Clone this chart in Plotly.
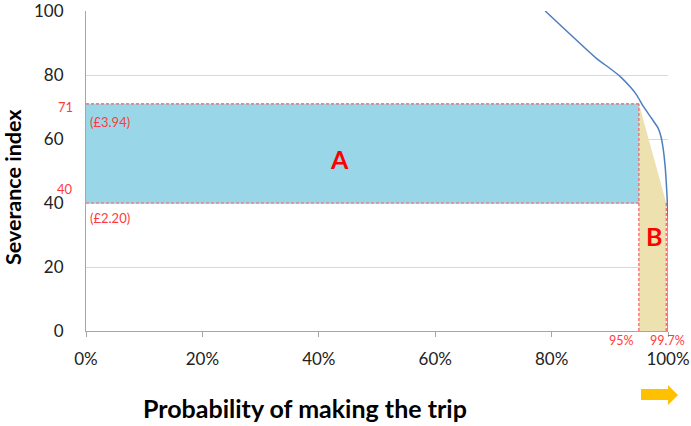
import plotly.graph_objects as go

# Probability of making the trip (%) against severance index
curve_prob = [78.9, 87.7, 90.0, 91.8, 93.5, 94.6, 95.8, 97.2, 98.3,
              98.8, 99.2, 99.5, 99.8, 100.0, 100.0]
curve_sev = [100, 85.2, 82.1, 79.5, 76.3, 73.8, 70.1, 66.4, 63.4,
             60.7, 56.6, 51.6, 43.3, 34.3, 0]

# Severance thresholds and the matching costs
sev_high, sev_low = 71, 40
cost_high, cost_low = "(£3.94)", "(£2.20)"
# Probabilities at the two thresholds
p_high, p_low = 95.0, 99.7

y_ticks = [0, 20, 40, 60, 80, 100]
x_ticks = [0, 20, 40, 60, 80, 100]
x_tick_text = ["0%", "20%", "40%", "60%", "80%", "100%"]

FONT = "Lato, 'Open Sans', sans-serif"
RED = "#FF3B3B"
DASH_RED = "#FF5A5A"

# Plot area in pixels
L, R, T, B = 86, 23, 11, 95
W, H = 691, 426
PW, PH = W - L - R, H - T - B

fig = go.Figure()

# Region A: cost band between the two severance thresholds
fig.add_trace(go.Scatter(
    x=[0, p_high, p_high, 0, 0],
    y=[sev_low, sev_low, sev_high, sev_high, sev_low],
    fill="toself", fillcolor="#99D7E8", mode="none",
    hoverinfo="skip", showlegend=False,
))

# Region B: gain in probability between the thresholds
fig.add_trace(go.Scatter(
    x=[p_high, p_high, p_low, p_low, p_high],
    y=[0, sev_high, sev_low, 0, 0],
    fill="toself", fillcolor="#EEE1B0", mode="none",
    hoverinfo="skip", showlegend=False,
))

dash = dict(color=DASH_RED, width=1.2, dash="3px,2px")
# Threshold guide lines
for xs, ys in [([0, p_high], [sev_high, sev_high]),
               ([0, p_high], [sev_low, sev_low]),
               ([p_high, p_high], [0, sev_high]),
               ([p_low, p_low], [0, sev_low])]:
    fig.add_trace(go.Scatter(x=xs, y=ys, mode="lines", line=dash,
                             hoverinfo="skip", showlegend=False))

# Demand curve
fig.add_trace(go.Scatter(
    x=curve_prob, y=curve_sev, mode="lines",
    line=dict(color="#4F7FC0", width=1.5, shape="spline", smoothing=0.5),
    hoverinfo="skip", showlegend=False, cliponaxis=False,
))

small_red = dict(family=FONT, size=13, color=RED)
tiny_red = dict(family=FONT, size=12.5, color=RED)
annotations = [
    dict(x=0, y=sev_high, text=str(sev_high), xanchor="right", yanchor="middle",
         xshift=-11, yshift=-3, showarrow=False, font=small_red),
    dict(x=0, y=sev_low, text=str(sev_low), xanchor="right", yanchor="bottom",
         xshift=-11, yshift=4, showarrow=False, font=small_red),
    dict(x=0, y=sev_high, text=cost_high, xanchor="left", yanchor="top",
         xshift=2, yshift=-8, showarrow=False, font=small_red),
    dict(x=0, y=sev_low, text=cost_low, xanchor="left", yanchor="top",
         xshift=2, yshift=-5, showarrow=False, font=small_red),
    dict(x=43.6, y=53.7, text="<b>A</b>", showarrow=False,
         font=dict(family=FONT, size=25, color="#FF0000")),
    dict(x=97.6, y=29.7, text="<b>B</b>", showarrow=False,
         font=dict(family=FONT, size=25, color="#FF0000")),
    dict(x=p_high, y=0, text=f"{p_high:g}%", xanchor="right", yanchor="top",
         xshift=-3, yshift=0, showarrow=False, font=tiny_red),
    dict(x=p_low, y=0, text=f"{p_low:g}%", xanchor="center", yanchor="top",
         xshift=1, yshift=0, showarrow=False, font=tiny_red),
    # Axis titles
    dict(xref="paper", yref="paper", x=(305 - L) / PW, y=-(408 - (H - B)) / PH,
         text="<b>Probability of making the trip</b>",
         xanchor="center", yanchor="middle", showarrow=False,
         font=dict(family=FONT, size=25, color="#000000")),
    dict(xref="paper", yref="paper", x=(13 - L) / PW, y=(H - B - 187) / PH,
         text="<b>Severance index</b>",
         textangle=-90, xanchor="center", yanchor="middle", showarrow=False,
         font=dict(family=FONT, size=21.5, color="#000000")),
]


# Orange arrow pointing right, below the 100% label
def px(xp):
    return (xp - L) / PW


def py(yp):
    return (H - B - yp) / PH


arrow_path = (
    f"M {px(641)},{py(389)} L {px(668)},{py(389)} L {px(668)},{py(385)} "
    f"L {px(678)},{py(395)} L {px(668)},{py(405)} L {px(668)},{py(400)} "
    f"L {px(641)},{py(400)} Z"
)

fig.update_layout(
    width=W, height=H,
    margin=dict(l=L, r=R, t=T, b=B, autoexpand=False),
    plot_bgcolor="white", paper_bgcolor="white",
    font=dict(family=FONT, size=16, color="#222222"),
    annotations=annotations,
    shapes=[dict(type="path", xref="paper", yref="paper", path=arrow_path,
                 fillcolor="#FFC000", line=dict(width=0))],
    xaxis=dict(
        range=[0, 100], tickvals=x_ticks, ticktext=x_tick_text,
        showgrid=False, zeroline=False, showline=True, linecolor="#A6A6A6",
        linewidth=1, ticks="outside", ticklen=5, tickcolor="#A6A6A6",
        ticklabelstandoff=8, tickfont=dict(size=17), automargin=False,
        ticklabeloverflow="allow",
    ),
    yaxis=dict(
        range=[0, 100], tickvals=y_ticks,
        showgrid=True, gridcolor="#D9D9D9", gridwidth=1, zeroline=False,
        showline=True, linecolor="#A6A6A6", linewidth=1,
        ticks="", ticklabelstandoff=18, tickfont=dict(size=17),
        automargin=False, ticklabeloverflow="allow",
    ),
)

fig.write_html("out.html")
